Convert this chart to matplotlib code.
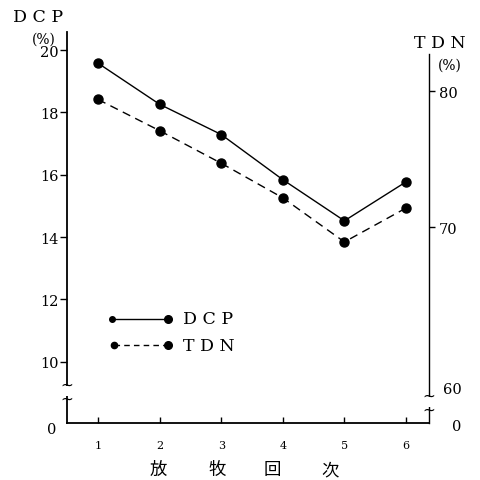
import matplotlib
matplotlib.use("Agg")
import matplotlib.pyplot as plt
from matplotlib.patches import Rectangle

rounds = [1, 2, 3, 4, 5, 6]
dcp = [19.58, 18.26, 17.29, 15.84, 14.52, 15.77]
tdn = [79.4, 77.1, 74.7, 72.15, 68.9, 71.4]
dcp_ticks = [10, 12, 14, 16, 18, 20]
tdn_ticks = [70, 80]
xlabel_chars = ["放", "牧", "回", "次"]

serif = ["DejaVu Serif"]
cjk = ["Noto Sans CJK JP", "DejaVu Sans"]

fig = plt.figure(figsize=(4.8, 4.81), dpi=100)
ax = fig.add_axes([67/480, 1-424/481, (429-67)/480, (424-33)/481])
ax.set_xlim(0.497, 6.373)
ax.set_ylim(8.03, 20.58)
for s in ["top", "right"]:
    ax.spines[s].set_visible(False)
for s in ["left", "bottom"]:
    ax.spines[s].set_linewidth(1.3)
ax.set_xticks(rounds)
ax.set_xticklabels([str(r) for r in rounds], fontsize=8, family=serif)
ax.tick_params(axis="x", direction="in", length=4, width=1, pad=12)
ax.set_yticks(dcp_ticks)
ax.set_yticklabels([str(t) for t in dcp_ticks], fontsize=10.5, family=serif)
ax.tick_params(axis="y", direction="out", length=5, width=1, pad=1)

ax2 = ax.twinx()
ax2.set_position(ax.get_position())
ax2.set_ylim(55.56, 84.37)
for s in ["top", "left", "bottom"]:
    ax2.spines[s].set_visible(False)
ax2.spines["right"].set_linewidth(1.0)
ax2.spines["right"].set_bounds(55.56, 82.74)
ax2.set_yticks(tdn_ticks)
ax2.set_yticklabels([str(t) for t in tdn_ticks], fontsize=10.5, family=serif)
ax2.tick_params(axis="y", direction="out", length=4, width=1, pad=3)

ax.plot(rounds, dcp, "-", color="black", lw=1.0, marker="o", ms=6.5, zorder=3)
ax2.plot(rounds, tdn, "--", color="black", lw=1.0, marker="o", ms=6.5,
         dashes=(6, 4), zorder=3)

# legend (drawn manually)
y1, y2 = 0.266, 0.199
ax.plot([0.124, 0.279], [y1, y1], "-", color="black", lw=1.0, transform=ax.transAxes)
ax.plot([0.124], [y1], "o", color="black", ms=4, transform=ax.transAxes)
ax.plot([0.279], [y1], "o", color="black", ms=5.5, transform=ax.transAxes)
ax.plot([0.13, 0.279], [y2, y2], "--", color="black", lw=1.0, dashes=(4, 3),
        transform=ax.transAxes)
ax.plot([0.13], [y2], "o", color="black", ms=4.5, transform=ax.transAxes)
ax.plot([0.279], [y2], "o", color="black", ms=5.5, transform=ax.transAxes)
ax.text(0.32, y1, "D C P", transform=ax.transAxes, fontsize=12.5, family=serif,
        va="center", ha="left")
ax.text(0.32, y2, "T D N", transform=ax.transAxes, fontsize=12.5, family=serif,
        va="center", ha="left")

# axis titles
fig.text(13/480, 1-17/481, "D C P", fontsize=12.5, family=serif, ha="left", va="center")
fig.text(44/480, 1-40/481, "(%)", fontsize=10, family=serif, ha="center", va="center")
fig.text(440/480, 1-44/481, "T D N", fontsize=12.5, family=serif, ha="center", va="center")
fig.text(450/480, 1-66/481, "(%)", fontsize=10, family=serif, ha="center", va="center")

# zero labels and 60 label
fig.text(52/480, 1-430/481, "0", fontsize=10.5, family=serif, ha="center", va="center")
fig.text(457/480, 1-427/481, "0", fontsize=10.5, family=serif, ha="center", va="center")
fig.text(452/480, 1-390/481, "60", fontsize=10.5, family=serif, ha="center", va="center")

# axis breaks
fig.patches.append(Rectangle((63/480, 1-397/481), 8/480, 10/481, transform=fig.transFigure,
                             facecolor="white", edgecolor="none", zorder=5))
fig.patches.append(Rectangle((426/480, 1-408/481), 7/480, 10/481, transform=fig.transFigure,
                             facecolor="white", edgecolor="none", zorder=5))
for (x, y) in [(67, 385), (67, 399), (429, 396), (429, 410)]:
    fig.text(x/480, 1-y/481, "~", fontsize=11, family=["DejaVu Sans"], ha="center",
             va="center", zorder=6)

# x label
for ch, xp in zip(xlabel_chars, [158, 217, 272, 330]):
    fig.text(xp/480, 1-470/481, ch, fontsize=12.5, family=cjk, ha="center", va="center")

fig.savefig("out.png", dpi=100)
